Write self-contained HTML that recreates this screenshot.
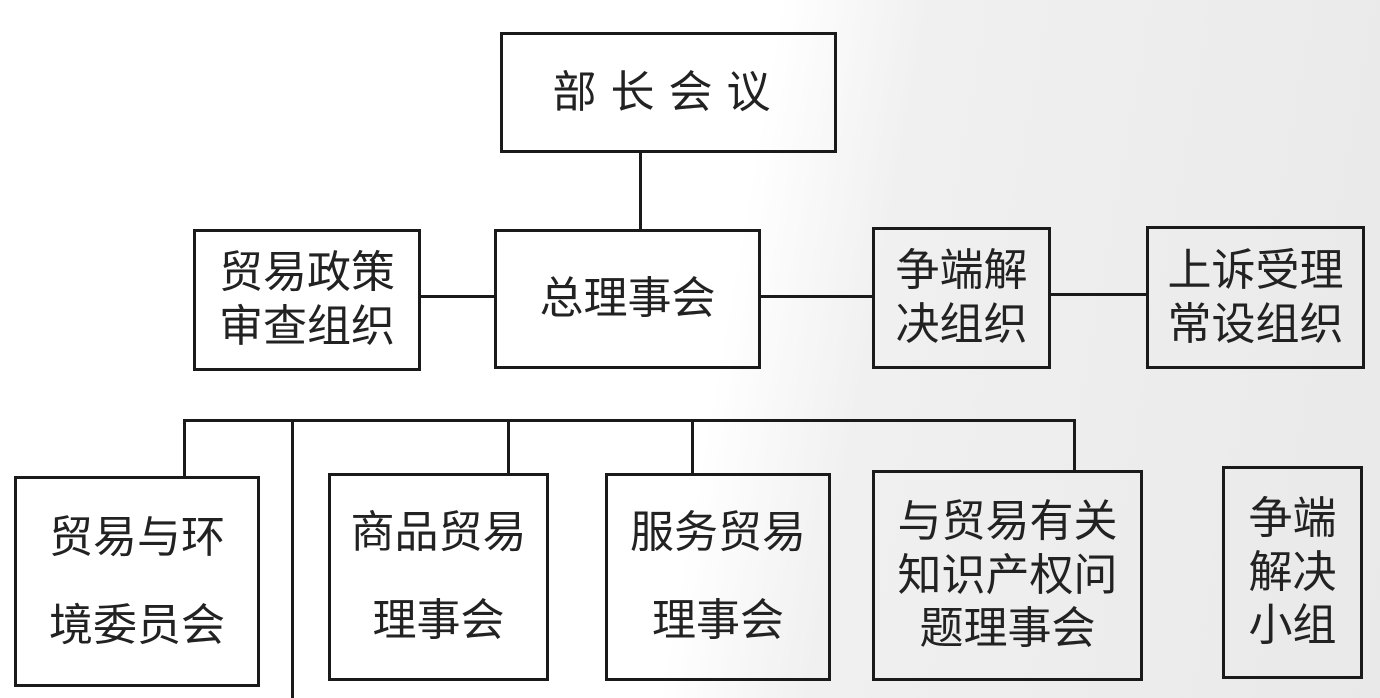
<!DOCTYPE html>
<html><head><meta charset="utf-8"><style>
html,body{margin:0;padding:0}
body{width:1380px;height:698px;position:relative;overflow:hidden;
background:linear-gradient(100deg,#fff 0%,#fff 52%,#f0f0f0 62%,#e9e9e9 100%);
font-family:"Liberation Sans","Noto Sans CJK SC","WenQuanYi Zen Hei",sans-serif;color:#222}
.b{position:absolute;border:3px solid #1a1a1a;box-sizing:border-box;display:flex;align-items:center;justify-content:center;text-align:center;font-size:44px;line-height:1.22;background:transparent}
.l{position:absolute;background:#1a1a1a}
</style></head><body>
<div class="l" style="left:639px;top:152px;width:3px;height:78px"></div>
<div class="l" style="left:420px;top:295px;width:75px;height:3px"></div>
<div class="l" style="left:760px;top:295px;width:113px;height:3px"></div>
<div class="l" style="left:1050px;top:293px;width:97px;height:3px"></div>
<div class="l" style="left:183px;top:419px;width:893px;height:3px"></div>
<div class="l" style="left:183px;top:419px;width:3px;height:58px"></div>
<div class="l" style="left:291px;top:419px;width:3px;height:279px"></div>
<div class="l" style="left:507px;top:419px;width:3px;height:55px"></div>
<div class="l" style="left:691px;top:419px;width:3px;height:55px"></div>
<div class="l" style="left:1073px;top:419px;width:3px;height:52px"></div>

<div class="b" style="left:500px;top:32px;width:337px;height:121px;letter-spacing:14px">部长会议</div>
<div class="b" style="left:494px;top:229px;width:267px;height:140px">总理事会</div>
<div class="b" style="left:193px;top:229px;width:228px;height:142px">贸易政策<br>审查组织</div>
<div class="b" style="left:872px;top:227px;width:179px;height:142px">争端解<br>决组织</div>
<div class="b" style="left:1146px;top:226px;width:219px;height:143px">上诉受理<br>常设组织</div>
<div class="b" style="left:14px;top:476px;width:246px;height:211px;line-height:2">贸易与环<br>境委员会</div>
<div class="b" style="left:328px;top:473px;width:221px;height:208px;line-height:2">商品贸易<br>理事会</div>
<div class="b" style="left:605px;top:473px;width:226px;height:208px;line-height:2">服务贸易<br>理事会</div>
<div class="b" style="left:872px;top:470px;width:271px;height:211px">与贸易有关<br>知识产权问<br>题理事会</div>
<div class="b" style="left:1222px;top:466px;width:141px;height:213px">争端<br>解决<br>小组</div>
</body></html>
